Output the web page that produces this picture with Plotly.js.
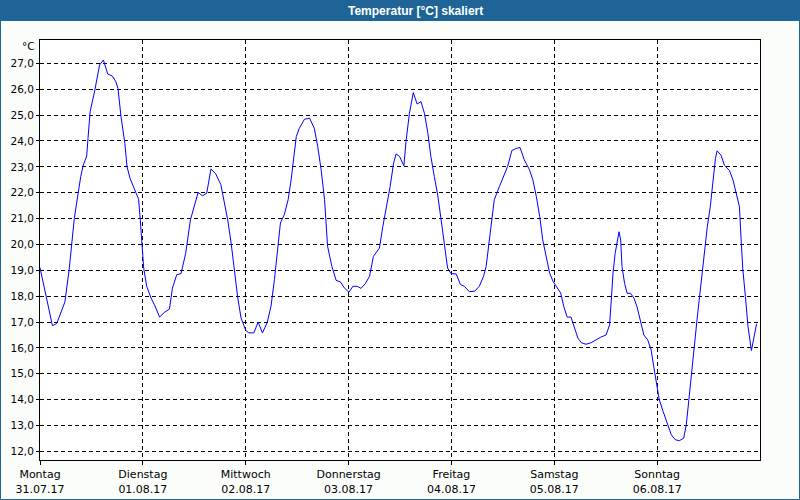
<!DOCTYPE html>
<html>
<head>
<meta charset="utf-8">
<script src="https://cdn.plot.ly/plotly-3.0.1.min.js"></script>
<style>
  html, body { margin: 0; padding: 0; background: #fbfdfb; }
  #chart { width: 800px; height: 500px; }
</style>
</head>
<body>
<div id="chart"></div>
<script>
// Hours since Monday 31.07.17 00:00
const hours = [
  0, 2.9, 3.9, 5.8, 6.8, 7.4, 8.0, 8.9, 9.5, 10.1, 10.9, 11.2, 11.7, 12.8, 13.9, 14.8, 15.8, 16.9, 17.7, 18.2,
  18.9, 19.8, 20.3, 21.0, 22.0, 23.0, 23.4, 23.8, 24.2, 24.9, 25.9, 26.8, 27.9, 29.0, 30.2, 30.9, 31.9, 32.9,
  34.0, 35.1, 36.0, 36.9, 37.9, 38.9, 39.9, 41.0, 42.2, 43.0, 43.8, 44.6, 45.3, 46.1, 46.9, 48.0, 48.7, 49.9,
  50.9, 51.9, 53.0, 53.9, 54.7, 55.5, 56.1, 57.0, 57.9, 58.6, 59.2, 59.8, 60.5, 61.7, 62.9, 64.0, 64.8, 65.6,
  66.4, 67.1, 68.1, 69.1, 70.1, 71.0, 72.1, 73.0, 74.0, 74.9, 75.9, 76.9, 77.8, 79.2, 80.0, 80.7, 81.7, 82.5,
  83.1, 83.9, 84.9, 85.4, 86.2, 87.1, 88.0, 88.9, 89.7, 90.5, 91.2, 92.0, 92.8, 93.6, 94.4, 95.1, 95.9, 97.1,
  98.1, 99.0, 100.2, 101.4, 102.5, 103.5, 104.1, 104.9, 105.4, 106.0, 107.2, 108.4, 109.1, 110.1, 111.1, 112.0,
  113.0, 114.2, 115.0, 115.8, 116.6, 117.3, 118.1, 118.9, 119.7, 120.7, 121.5, 122.2, 123.0, 123.9, 124.7, 125.5,
  126.3, 127.4, 128.6, 129.8, 130.8, 132.1, 132.9, 133.3, 133.7, 134.2, 134.7, 135.1, 135.5, 135.8, 136.4, 137.0,
  137.8, 138.6, 139.3, 140.1, 140.9, 141.8, 142.6, 143.2, 143.8, 144.5, 145.4, 146.4, 147.3, 148.2, 149.2, 150.2,
  150.8, 151.4, 152.0, 152.6, 153.3, 153.9, 154.5, 155.1, 155.7, 156.4, 157.0, 157.6, 158.0, 158.9, 159.7, 160.9,
  161.7, 162.4, 163.2, 163.6, 164.0, 164.6, 165.2, 166.0, 166.6, 167.2
];
const temps = [
  19.1, 16.86, 16.94, 17.77, 19.02, 20.05, 21.0, 21.98, 22.62, 23.07, 23.42, 24.1, 25.13, 25.97, 26.94, 27.13, 26.59, 26.51, 26.29, 26.03,
  24.94, 23.91, 23.01, 22.56, 22.17, 21.75, 20.95, 19.86, 19.08, 18.38, 17.93, 17.63, 17.19, 17.37, 17.5, 18.31, 18.83, 18.87,
  19.66, 20.95, 21.47, 22.01, 21.88, 21.98, 22.92, 22.73, 22.31, 21.66, 20.95, 20.05, 19.02, 17.99, 17.16, 16.68, 16.58, 16.58,
  17.0, 16.58, 16.97, 17.61, 18.64, 19.93, 20.83, 21.15, 21.73, 22.5, 23.4, 24.17, 24.49, 24.84, 24.88, 24.49, 23.79, 22.89,
  21.73, 19.93, 19.15, 18.61, 18.55, 18.32, 18.15, 18.38, 18.38, 18.30, 18.48, 18.77, 19.54, 19.86, 20.70, 21.34, 22.24, 23.14,
  23.5, 23.40, 23.04, 23.98, 25.07, 25.87, 25.43, 25.52, 25.07, 24.30, 23.40, 22.63, 21.91, 20.95, 20.05, 19.09, 18.87, 18.86,
  18.45, 18.38, 18.17, 18.19, 18.38, 18.77, 19.15, 20.18, 20.95, 21.73, 22.24, 22.69, 23.01, 23.63, 23.71, 23.75,
  23.27, 22.89, 22.50, 21.86, 21.08, 20.18, 19.54, 18.90, 18.57, 18.32, 18.12, 17.61, 17.19, 17.19, 16.77, 16.38,
  16.20, 16.14, 16.20, 16.33, 16.41, 16.50, 16.89, 17.85, 18.88, 19.65, 20.17, 20.49, 20.17, 19.14, 18.50, 18.11,
  18.11, 17.92, 17.59, 17.02, 16.50, 16.31, 15.92, 15.28, 14.63, 13.99, 13.54, 13.09, 12.64, 12.45, 12.41, 12.51,
  13.03, 13.99, 15.02, 16.05, 17.08, 17.98, 18.88, 19.78, 20.68, 21.46, 22.36, 23.32, 23.62, 23.45, 23.06, 22.85,
  22.49, 21.97, 21.46, 20.17, 19.01, 17.98, 16.82, 15.90, 16.44, 16.93
];
const dayHours = [0, 24, 48, 72, 96, 120, 144];
const dayNames = ["Montag", "Dienstag", "Mittwoch", "Donnerstag", "Freitag", "Samstag", "Sonntag"];
const dayDates = ["31.07.17", "01.08.17", "02.08.17", "03.08.17", "04.08.17", "05.08.17", "06.08.17"];
const yTicks = [12, 13, 14, 15, 16, 17, 18, 19, 20, 21, 22, 23, 24, 25, 26, 27];
const titleText = "Temperatur [°C] skaliert";
const unitText = "°C";

const tickFont = { family: "DejaVu Sans, Verdana, sans-serif", size: 10.5, color: "#000000" };
const xTickFont = { family: "DejaVu Sans, Verdana, sans-serif", size: 11, color: "#000000" };
const blue = "#1e6496";

const trace = {
  x: hours, y: temps, type: "scatter", mode: "lines",
  line: { color: "#0000ff", width: 1 },
  hoverinfo: "skip"
};

const W = 720, H = 420, ML = 40, MT = 40;
function px2paperX(px) { return (px - ML) / W; }
function px2paperY(py) { return (MT + H - py) / H; }

const layout = {
  width: 800, height: 500,
  margin: { l: 40, r: 40, t: 40, b: 40, pad: 0 },
  paper_bgcolor: "#fbfdfb",
  plot_bgcolor: "#fdfefd",
  separators: ",.",
  showlegend: false,
  font: tickFont,
  xaxis: {
    range: [0, 168],
    tickmode: "array",
    tickvals: dayHours,
    ticktext: dayNames.map((d, i) => d + "<br>" + dayDates[i]),
    showgrid: true, gridcolor: "#000000", griddash: "4px,3px", gridwidth: 1,
    showline: true, linecolor: "#000000", linewidth: 1, mirror: true,
    ticks: "outside", ticklen: 4, tickcolor: "#000000", tickwidth: 1,
    zeroline: false, tickfont: xTickFont, fixedrange: true
  },
  yaxis: {
    range: [11.664, 27.905],
    tickmode: "array",
    tickvals: yTicks,
    tickformat: ".1f",
    showgrid: true, gridcolor: "#000000", griddash: "4px,3px", gridwidth: 1,
    showline: true, linecolor: "#000000", linewidth: 1, mirror: true,
    ticks: "outside", ticklen: 3, tickcolor: "#000000", tickwidth: 1,
    zeroline: false, tickfont: tickFont, fixedrange: true
  },
  shapes: [
    { type: "rect", xref: "paper", yref: "paper", layer: "below",
      x0: px2paperX(0), x1: px2paperX(800), y0: px2paperY(21), y1: px2paperY(0),
      fillcolor: blue, line: { width: 0 } },
    { type: "rect", xref: "paper", yref: "paper", layer: "above",
      x0: px2paperX(0.5), x1: px2paperX(799.5), y0: px2paperY(499.5), y1: px2paperY(0.5),
      fillcolor: "rgba(0,0,0,0)", line: { color: blue, width: 1 } }
  ],
  annotations: [
    { text: "<b>" + titleText + "</b>", xref: "paper", yref: "paper",
      x: px2paperX(415), y: px2paperY(10.5), xanchor: "center", yanchor: "middle",
      showarrow: false, font: { family: "Liberation Sans, Arial, sans-serif", size: 12, color: "#ffffff" } },
    { text: unitText, xref: "paper", yref: "paper",
      x: px2paperX(37), y: px2paperY(46), xanchor: "right", yanchor: "middle",
      showarrow: false, font: tickFont }
  ]
};

Plotly.newPlot("chart", [trace], layout, { displayModeBar: false, staticPlot: true });
</script>
</body>
</html>
